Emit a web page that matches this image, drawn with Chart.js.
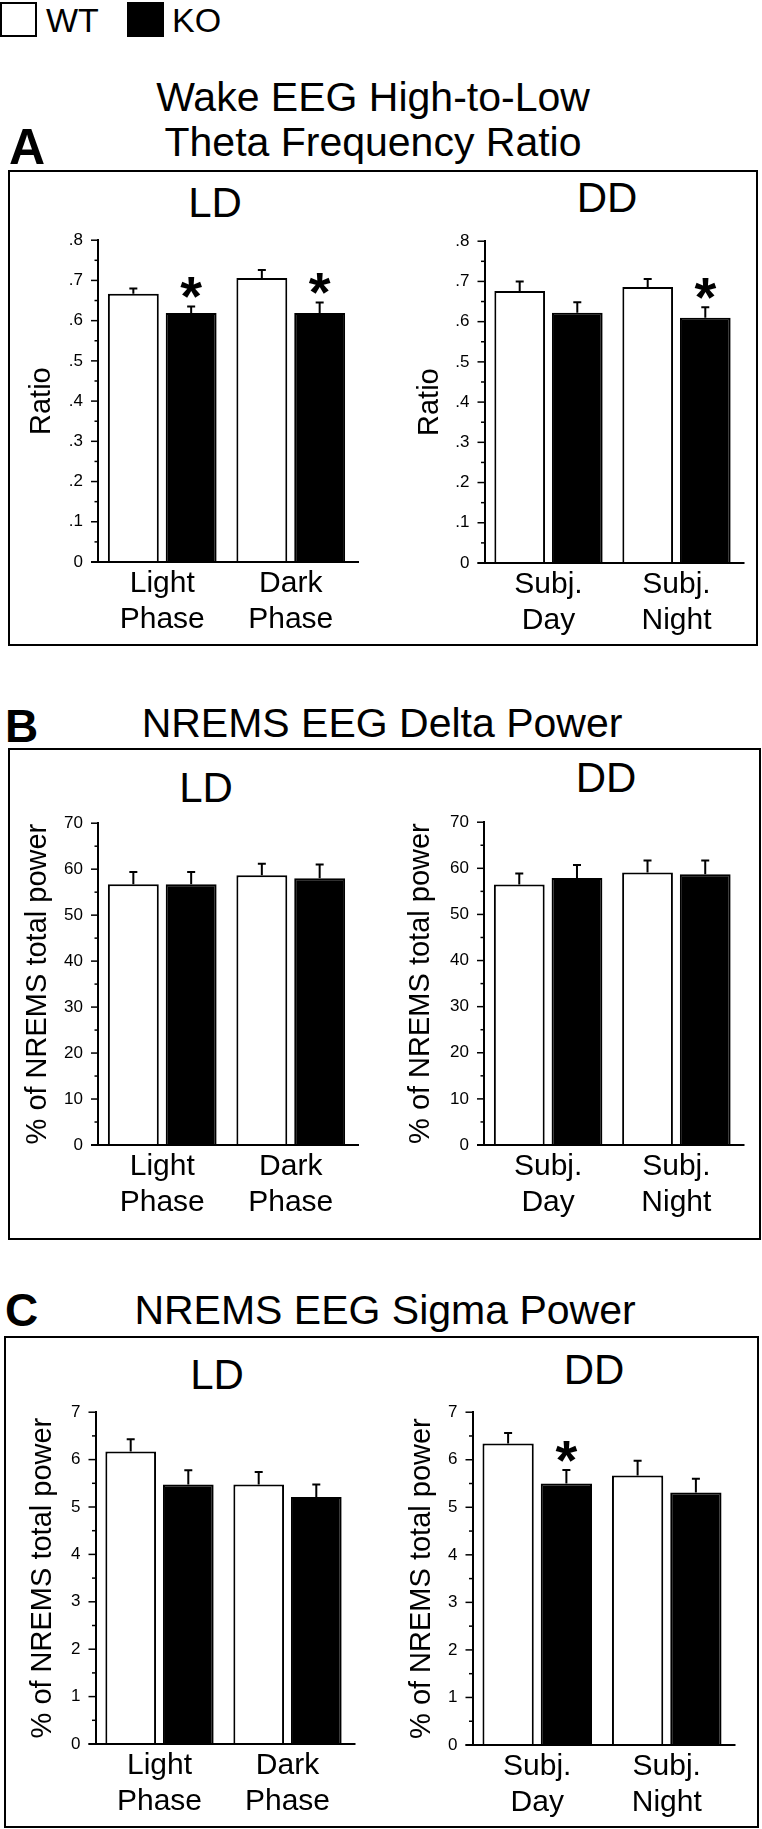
<!DOCTYPE html>
<html>
<head>
<meta charset="utf-8">
<script src="https://cdn.jsdelivr.net/npm/chart.js@4.4.1/dist/chart.umd.min.js"></script>
<style>
  html, body { margin: 0; padding: 0; background: #fff; }
  body { width: 762px; height: 1829px; position: relative; overflow: hidden;
         font-family: "Liberation Sans", Arial, Helvetica, sans-serif; color: #000; }
  .t { position: absolute; line-height: 1; white-space: nowrap; }
  .c { transform: translateX(-50%); }
  .b { font-weight: bold; }
  .frame { position: absolute; border: 2px solid #000; box-sizing: border-box; }
  .swatch { position: absolute; border: 2px solid #000; box-sizing: border-box; }
  canvas { position: absolute; }
</style>
</head>
<body>

<!-- legend -->
<div class="swatch" style="left:0;top:2px;width:37px;height:35px;background:#fff"></div>
<div class="t" style="left:46px;top:3px;font-size:34px">WT</div>
<div class="swatch" style="left:127px;top:2px;width:37px;height:35px;background:#000"></div>
<div class="t" style="left:172px;top:3px;font-size:34px">KO</div>

<!-- panel A -->
<div class="t c" style="left:373px;top:77px;font-size:41px">Wake EEG High-to-Low</div>
<div class="t c" style="left:373px;top:122px;font-size:41px">Theta Frequency Ratio</div>
<div class="t b" style="left:9px;top:122px;font-size:50px">A</div>
<div class="frame" style="left:8px;top:170px;width:750px;height:476px"></div>
<div class="t c" style="left:215px;top:182px;font-size:42px">LD</div>
<div class="t c" style="left:607px;top:177px;font-size:42px">DD</div>

<!-- panel B -->
<div class="t b" style="left:5px;top:703px;font-size:46px">B</div>
<div class="t c" style="left:382px;top:703px;font-size:41px">NREMS EEG Delta Power</div>
<div class="frame" style="left:8px;top:748px;width:753px;height:492px"></div>
<div class="t c" style="left:206px;top:767px;font-size:42px">LD</div>
<div class="t c" style="left:606px;top:757px;font-size:42px">DD</div>

<!-- panel C -->
<div class="t b" style="left:5px;top:1287px;font-size:46px">C</div>
<div class="t c" style="left:385px;top:1290px;font-size:41px">NREMS EEG Sigma Power</div>
<div class="frame" style="left:4px;top:1336px;width:755px;height:492px"></div>
<div class="t c" style="left:217px;top:1354px;font-size:42px">LD</div>
<div class="t c" style="left:594px;top:1349px;font-size:42px">DD</div>

<script>
// ---- data ----
const ldCategories = [['Light', 'Phase'], ['Dark', 'Phase']];
const ddCategories = [['Subj.', 'Day'], ['Subj.', 'Night']];
const seriesNames = ['WT', 'KO'];

const ratioTicks = ['0', '.1', '.2', '.3', '.4', '.5', '.6', '.7', '.8'];
const deltaTicks = ['0', '10', '20', '30', '40', '50', '60', '70'];
const sigmaTicks = ['0', '1', '2', '3', '4', '5', '6', '7'];

// A: wake EEG high-to-low theta ratio
const thetaLdWT = [0.667, 0.706];
const thetaLdWTsem = [0.013, 0.020];
const thetaLdKO = [0.619, 0.619];
const thetaLdKOsem = [0.016, 0.026];
const thetaLdKOsig = [true, true];
const thetaDdWT = [0.676, 0.686];
const thetaDdWTsem = [0.024, 0.020];
const thetaDdKO = [0.622, 0.610];
const thetaDdKOsem = [0.026, 0.026];
const thetaDdKOsig = [false, true];

// B: NREMS delta power (% of total)
const deltaLdWT = [56.7, 58.7];
const deltaLdWTsem = [2.7, 2.5];
const deltaLdKO = [56.7, 58.0];
const deltaLdKOsem = [2.7, 3.0];
const deltaDdWT = [56.5, 59.1];
const deltaDdWTsem = [2.4, 2.6];
const deltaDdKO = [57.9, 58.7];
const deltaDdKOsem = [2.8, 3.0];

// C: NREMS sigma power (% of total)
const sigmaLdWT = [6.17, 5.475];
const sigmaLdWTsem = [0.26, 0.265];
const sigmaLdKO = [5.475, 5.21];
const sigmaLdKOsem = [0.30, 0.265];
const sigmaDdWT = [6.34, 5.67];
const sigmaDdWTsem = [0.22, 0.31];
const sigmaDdKO = [5.50, 5.31];
const sigmaDdKOsem = [0.285, 0.29];
const sigmaDdKOsig = [true, false];

// ---- where each plot area sits on the page ----
const PAD_T = 16, PAD_B = 4, X_AXIS_H = 86, MIN_PAD = 4;
const Y_TITLE_SIZE = 29;
const STAR_SIZE = 56;
const FONT = '"Liberation Sans", Arial, Helvetica, sans-serif';

Chart.defaults.font.family = FONT;
Chart.defaults.color = '#000';

// error bars + significance stars, positioned through the y scale
const errorBars = {
    id: 'errorBars',
    afterDatasetsDraw(chart) {
        const { ctx, scales: { y } } = chart;
        ctx.save();
        chart.data.datasets.forEach((ds, i) => {
            const meta = chart.getDatasetMeta(i);
            meta.data.forEach((bar, j) => {
                const top = y.getPixelForValue(ds.data[j] + ds.sem[j]);
                ctx.strokeStyle = '#000';
                ctx.lineWidth = 2;
                ctx.beginPath();
                ctx.moveTo(bar.x, bar.y);
                ctx.lineTo(bar.x, top);
                ctx.moveTo(bar.x - 4, top);
                ctx.lineTo(bar.x + 4, top);
                ctx.stroke();
                if (ds.sig && ds.sig[j]) {
                    ctx.fillStyle = '#000';
                    ctx.font = 'bold ' + STAR_SIZE + 'px ' + FONT;
                    ctx.textAlign = 'center';
                    ctx.textBaseline = 'alphabetic';
                    ctx.fillText('*', bar.x, top - 22 + 0.55 * STAR_SIZE);
                }
            });
        });
        ctx.restore();
    }
};

// baseline plus long/short y tick marks
const axisMarks = {
    id: 'axisMarks',
    afterDraw(chart) {
        const { ctx, chartArea, scales: { y } } = chart;
        ctx.save();
        ctx.strokeStyle = '#000';
        ctx.lineWidth = 2;
        const y0 = y.getPixelForValue(0);
        ctx.beginPath();
        ctx.moveTo(chartArea.left - 7, y0);
        ctx.lineTo(chartArea.right + 4, y0);
        ctx.stroke();
        ctx.lineWidth = 1.5;
        y.ticks.forEach(t => {
            const py = y.getPixelForValue(t.value);
            const len = t.label !== '' ? 7 : 3.5;
            ctx.beginPath();
            ctx.moveTo(chartArea.left - len, py);
            ctx.lineTo(chartArea.left, py);
            ctx.stroke();
        });
        ctx.restore();
    }
};

function drawPanel(box, categories, yTitle, tickLabels, majorStep, wt, wtSem, ko, koSem, koSig) {
    const lineH = Y_TITLE_SIZE * 1.2;
    const yW = box.left - box.titleMid + lineH / 2;
    const canvasLeft = Math.floor(box.left - yW - MIN_PAD);
    const padL = box.left - yW - canvasLeft;
    const areaW = box.right - box.left;
    const width = Math.ceil(padL + yW + areaW + 10);
    const padR = width - padL - yW - areaW;
    const height = PAD_T + (box.bottom - box.top) + X_AXIS_H + PAD_B;

    const canvas = document.createElement('canvas');
    canvas.width = width;
    canvas.height = height;
    canvas.style.left = canvasLeft + 'px';
    canvas.style.top = (box.top - PAD_T) + 'px';
    document.body.appendChild(canvas);

    const yMax = majorStep * (tickLabels.length - 1);

    new Chart(canvas.getContext('2d'), {
        type: 'bar',
        data: {
            labels: categories,
            datasets: [
                {
                    label: seriesNames[0],
                    data: wt,
                    sem: wtSem,
                    backgroundColor: '#ffffff',
                    borderColor: '#000000',
                    borderWidth: 2,
                    categoryPercentage: 0.9,
                    barPercentage: 0.88
                },
                {
                    label: seriesNames[1],
                    data: ko,
                    sem: koSem,
                    sig: koSig,
                    backgroundColor: '#000000',
                    borderColor: '#000000',
                    borderWidth: 2,
                    categoryPercentage: 0.9,
                    barPercentage: 0.88
                }
            ]
        },
        options: {
            responsive: false,
            devicePixelRatio: 1,
            animation: false,
            layout: { padding: { left: padL, right: padR, top: PAD_T, bottom: PAD_B } },
            plugins: {
                legend: { display: false },
                title: { display: false },
                tooltip: { enabled: false }
            },
            scales: {
                x: {
                    grid: { display: false, drawTicks: false },
                    border: { display: false },
                    ticks: {
                        font: { size: 30, lineHeight: 1.2 },
                        padding: 4,
                        maxRotation: 0,
                        autoSkip: false
                    },
                    afterFit(scale) { scale.height = X_AXIS_H; }
                },
                y: {
                    min: 0,
                    max: yMax,
                    grid: { display: false, drawTicks: false },
                    border: { display: true, color: '#000', width: 2 },
                    ticks: {
                        stepSize: majorStep / 2,
                        maxTicksLimit: 100,
                        autoSkip: false,
                        padding: 15,
                        font: { size: 17 },
                        callback(value) {
                            const idx = value / majorStep;
                            const k = Math.round(idx);
                            return Math.abs(idx - k) < 1e-6 ? tickLabels[k] : '';
                        }
                    },
                    title: {
                        display: true,
                        text: yTitle,
                        font: { size: Y_TITLE_SIZE },
                        padding: 0
                    },
                    afterFit(scale) { scale.width = yW; }
                }
            }
        },
        plugins: [errorBars, axisMarks]
    });
}

const pct = '% of NREMS total power';

drawPanel({ left: 98, right: 355, top: 231, bottom: 562, titleMid: 41.7 },
    ldCategories, 'Ratio', ratioTicks, 0.1,
    thetaLdWT, thetaLdWTsem, thetaLdKO, thetaLdKOsem, thetaLdKOsig);
drawPanel({ left: 484.5, right: 740.5, top: 232, bottom: 563, titleMid: 430 },
    ddCategories, 'Ratio', ratioTicks, 0.1,
    thetaDdWT, thetaDdWTsem, thetaDdKO, thetaDdKOsem, thetaDdKOsig);

drawPanel({ left: 98, right: 355, top: 814, bottom: 1145, titleMid: 38 },
    ldCategories, pct, deltaTicks, 10,
    deltaLdWT, deltaLdWTsem, deltaLdKO, deltaLdKOsem, null);
drawPanel({ left: 484, right: 740.5, top: 813, bottom: 1145, titleMid: 421 },
    ddCategories, pct, deltaTicks, 10,
    deltaDdWT, deltaDdWTsem, deltaDdKO, deltaDdKOsem, null);

drawPanel({ left: 95.5, right: 351.5, top: 1403, bottom: 1744, titleMid: 42.6 },
    ldCategories, pct, sigmaTicks, 1,
    sigmaLdWT, sigmaLdWTsem, sigmaLdKO, sigmaLdKOsem, null);
drawPanel({ left: 472.5, right: 731.5, top: 1403, bottom: 1745, titleMid: 422 },
    ddCategories, pct, sigmaTicks, 1,
    sigmaDdWT, sigmaDdWTsem, sigmaDdKO, sigmaDdKOsem, sigmaDdKOsig);
</script>
</body>
</html>
